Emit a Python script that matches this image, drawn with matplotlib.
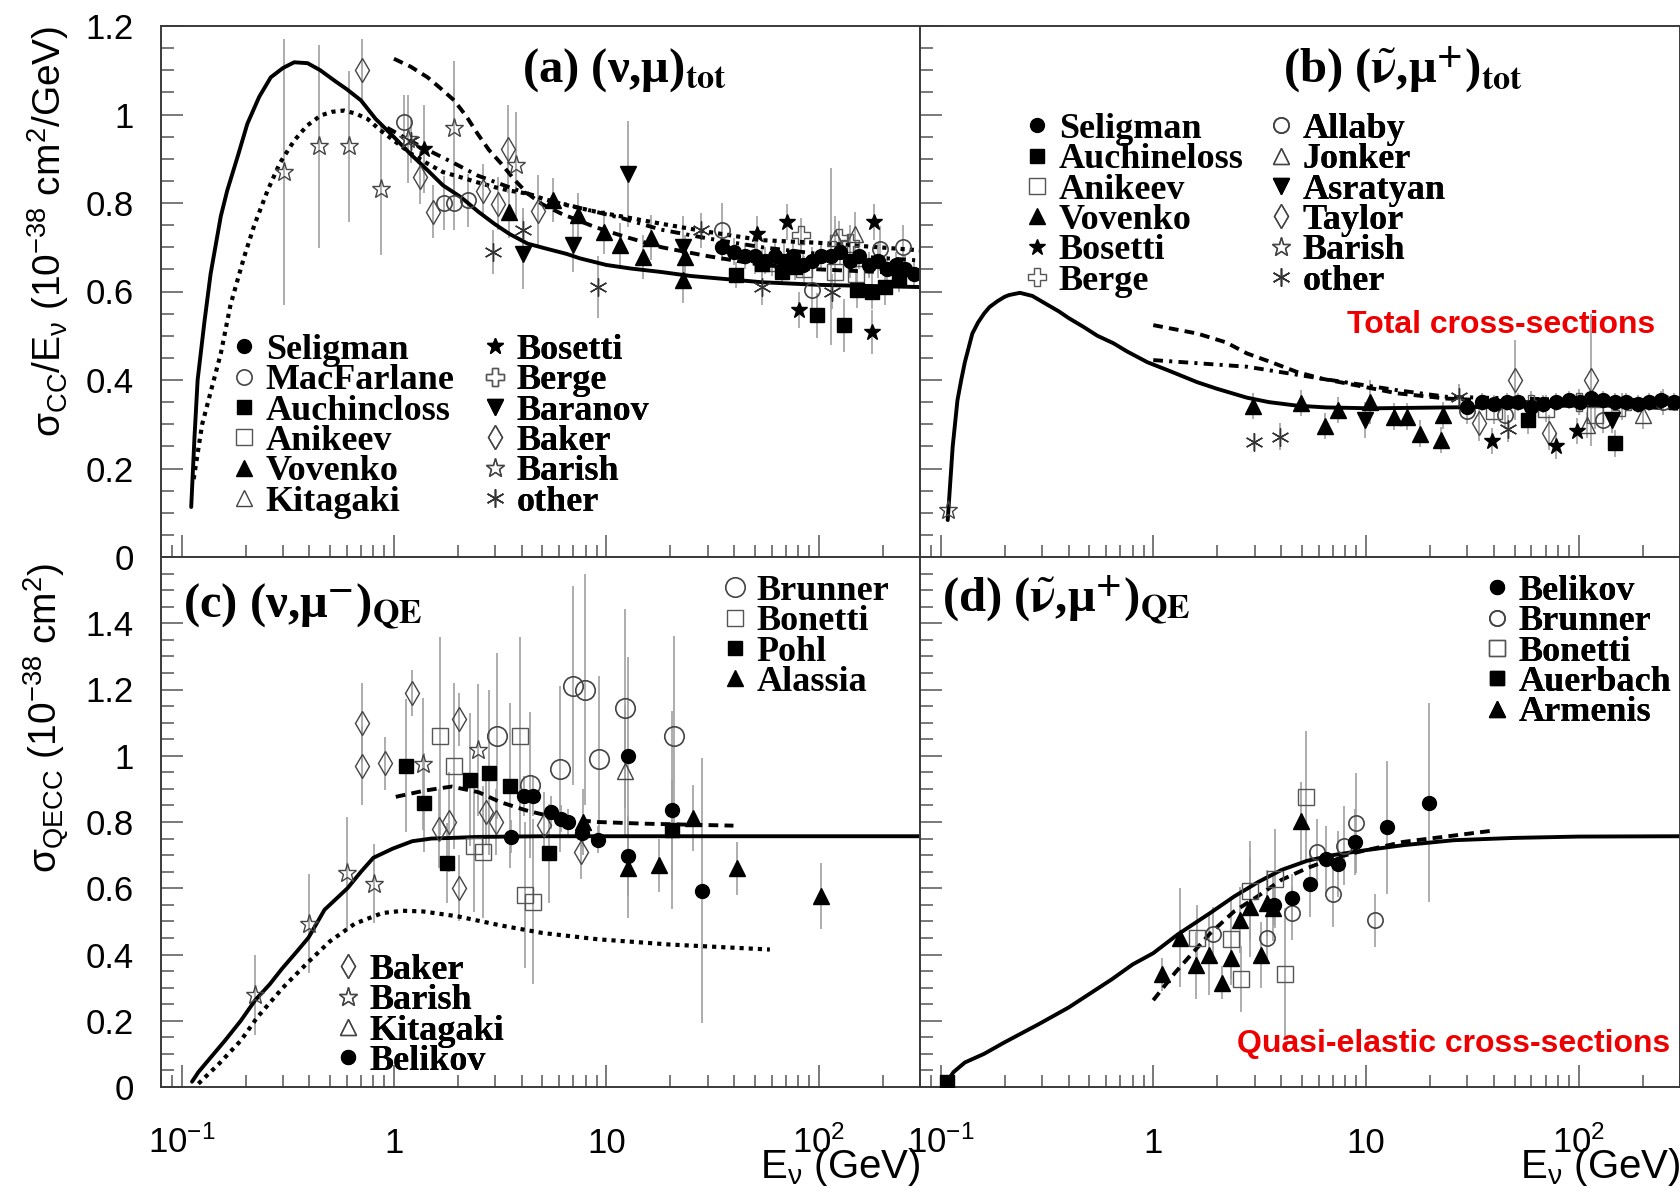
import numpy as np
import matplotlib
matplotlib.use('Agg')
import matplotlib.pyplot as plt
from matplotlib.lines import Line2D
from matplotlib.font_manager import FontProperties
from matplotlib.ticker import FixedLocator, MultipleLocator, LogLocator, NullFormatter

plt.rcParams['font.family'] = ['Liberation Sans', 'DejaVu Sans']
plt.rcParams['mathtext.fontset'] = 'custom'
plt.rcParams['mathtext.rm'] = 'Liberation Sans'
plt.rcParams['mathtext.it'] = 'Liberation Sans:italic'
plt.rcParams['mathtext.bf'] = 'Liberation Sans:bold'

# ---------------- axis ticks ----------------
xtick_vals = [0.1, 1, 10, 100]
xtick_labels = [r'$\mathregular{10^{-1}}$', '1', '10', r'$\mathregular{10^{2}}$']
top_ytick_vals = [0, 0.2, 0.4, 0.6, 0.8, 1.0, 1.2]
top_ytick_labels = ['0', '0.2', '0.4', '0.6', '0.8', '1', '1.2']
bot_ytick_vals = [0, 0.2, 0.4, 0.6, 0.8, 1.0, 1.2, 1.4]
bot_ytick_labels = ['0', '0.2', '0.4', '0.6', '0.8', '1', '1.2', '1.4']

# ---------------- panel (a) curves ----------------
a_solid_E = [0.111, 0.115, 0.119, 0.128, 0.137, 0.153, 0.164, 0.185, 0.204, 0.232, 0.263, 0.30, 0.339, 0.392, 0.45,
             0.523, 0.60, 0.699, 0.82, 1.0, 1.2, 1.44, 1.7, 2.07, 2.5, 2.97, 3.5, 4.27, 5.2, 6.5, 7.5, 10, 13, 18.2,
             25, 53.9, 100, 300]
a_solid_y = [0.113, 0.27, 0.40, 0.53, 0.640, 0.77, 0.828, 0.91, 0.979, 1.04, 1.084, 1.105, 1.118, 1.116, 1.10,
             1.077, 1.057, 1.032, 0.99, 0.949, 0.91, 0.874, 0.84, 0.813, 0.78, 0.753, 0.73, 0.708, 0.697, 0.685,
             0.675, 0.66, 0.652, 0.644, 0.635, 0.621, 0.615, 0.610]
a_dotted_E = [0.114, 0.125, 0.153, 0.17, 0.197, 0.22, 0.254, 0.29, 0.339, 0.39, 0.453, 0.51, 0.583, 0.66, 0.751,
              0.86, 1.0, 1.2, 1.44, 1.7, 2.07, 2.5, 2.97, 3.5, 4.27, 5.0, 6.13, 9.0, 18.2, 30, 53.9, 100, 300]
a_dotted_y = [0.176, 0.30, 0.46, 0.57, 0.678, 0.75, 0.828, 0.89, 0.941, 0.975, 0.998, 1.006, 1.009, 1.002, 0.990,
              0.965, 0.941, 0.912, 0.889, 0.87, 0.858, 0.846, 0.836, 0.828, 0.821, 0.81, 0.798, 0.78, 0.753, 0.735,
              0.716, 0.71, 0.693]
a_dashed_E = [1.0, 1.2, 1.44, 1.65, 1.92, 2.2, 2.48, 2.8, 3.2, 3.7, 4.27, 5.0, 6.13, 8.8, 12, 18.2, 30, 53.9, 100, 300]
a_dashed_y = [1.126, 1.108, 1.084, 1.06, 1.032, 0.995, 0.956, 0.92, 0.889, 0.852, 0.821, 0.797, 0.776, 0.746, 0.725,
              0.70, 0.68, 0.66, 0.65, 0.64]
a_dashdot_E = [0.93, 1.2, 1.44, 1.92, 2.48, 3.66, 5.0, 7.35, 12, 18, 30, 54, 100, 300]
a_dashdot_y = [0.97, 0.94, 0.92, 0.89, 0.862, 0.832, 0.81, 0.79, 0.765, 0.74, 0.72, 0.70, 0.685, 0.67]

# ---------------- panel (a) data ----------------
a_seligman_E = [35, 40, 45, 50, 56, 62, 69, 76, 84, 93, 103, 114, 126, 140, 155, 172, 190, 210, 232, 256, 282]
a_seligman_y = [0.70, 0.69, 0.68, 0.68, 0.67, 0.68, 0.67, 0.68, 0.66, 0.67, 0.68, 0.68, 0.69, 0.67, 0.68, 0.66, 0.67, 0.65, 0.66, 0.65, 0.64]
a_seligman_err = [0.03, 0.03, 0.03, 0.04, 0.03, 0.03, 0.04, 0.03, 0.03, 0.03, 0.03, 0.20, 0.03, 0.04, 0.03, 0.03, 0.04, 0.03, 0.03, 0.03, 0.03]
a_macfarlane_E = [1.12, 1.73, 1.91, 2.23, 35, 93, 194, 250]
a_macfarlane_y = [0.983, 0.80, 0.80, 0.806, 0.740, 0.603, 0.697, 0.70]
a_macfarlane_err = [0.06, 0.06, 0.06, 0.06, 0.06, 0.05, 0.05, 0.05]
a_auchincloss_E = [41, 54, 67, 77, 98, 132, 152, 178, 206, 240]
a_auchincloss_y = [0.637, 0.663, 0.645, 0.655, 0.546, 0.524, 0.603, 0.600, 0.610, 0.630]
a_auchincloss_err = [0.03, 0.03, 0.03, 0.03, 0.05, 0.06, 0.04, 0.04, 0.04, 0.03]
a_anikeev_E = [60, 85, 120, 150]
a_anikeev_y = [0.665, 0.650, 0.645, 0.640]
a_anikeev_err = [0.03, 0.03, 0.03, 0.03]
a_vovenko_E = [3.5, 5.6, 7.36, 9.8, 11.6, 14.9, 16.2, 23.0, 23.4]
a_vovenko_y = [0.78, 0.806, 0.772, 0.734, 0.704, 0.678, 0.722, 0.625, 0.678]
a_vovenko_err = [0.06, 0.05, 0.05, 0.05, 0.05, 0.05, 0.05, 0.05, 0.05]
a_kitagaki_E = [120, 148]
a_kitagaki_y = [0.72, 0.73]
a_kitagaki_err = [0.05, 0.05]
a_bosetti_E = [1.39, 51, 71, 81, 178, 183]
a_bosetti_y = [0.922, 0.730, 0.757, 0.558, 0.509, 0.757]
a_bosetti_err = [0.10, 0.04, 0.04, 0.04, 0.05, 0.04]
a_berge_E = [83, 124, 140]
a_berge_y = [0.727, 0.72, 0.71]
a_berge_err = [0.04, 0.04, 0.04]
a_baranov_E = [4.05, 7.0, 12.7, 23.0]
a_baranov_y = [0.685, 0.705, 0.866, 0.70]
a_baranov_err = [0.08, 0.06, 0.12, 0.07]
a_baker_E = [0.706, 1.32, 1.52, 2.62, 3.09, 3.44, 4.76]
a_baker_y = [1.101, 0.858, 0.780, 0.828, 0.798, 0.922, 0.783]
a_baker_err = [0.07, 0.06, 0.06, 0.06, 0.06, 0.10, 0.08]
a_barish_E = [0.304, 0.444, 0.616, 0.869, 1.16, 1.91, 3.76]
a_barish_y = [0.870, 0.928, 0.928, 0.832, 0.945, 0.970, 0.885]
a_barish_err = [0.30, 0.23, 0.17, 0.15, 0.10, 0.15, 0.12]
a_other_E = [1.2, 2.92, 4.05, 9.1, 28, 54, 115]
a_other_y = [0.94, 0.689, 0.738, 0.610, 0.738, 0.61, 0.60]
a_other_err = [0.05, 0.05, 0.05, 0.07, 0.04, 0.04, 0.04]

# ---------------- panel (b) curves ----------------
b_solid_E = [0.108, 0.114, 0.120, 0.125, 0.130, 0.141, 0.150, 0.160, 0.170, 0.185, 0.20, 0.21, 0.236, 0.27, 0.318,
             0.36, 0.40, 0.47, 0.546, 0.65, 0.75, 0.94, 1.2, 1.61, 2.0, 2.76, 3.5, 4.75, 6.5, 10.7, 24, 71, 300]
b_solid_y = [0.0835, 0.25, 0.354, 0.40, 0.44, 0.505, 0.53, 0.55, 0.565, 0.578, 0.588, 0.592, 0.597, 0.59, 0.57,
             0.555, 0.54, 0.52, 0.50, 0.483, 0.465, 0.44, 0.42, 0.395, 0.38, 0.36, 0.35, 0.342, 0.338, 0.336,
             0.338, 0.341, 0.347]
b_dashed_E = [1.0, 1.61, 2.2, 2.76, 3.6, 4.75, 6.2, 8.15, 14, 24, 100, 300]
b_dashed_y = [0.524, 0.505, 0.485, 0.460, 0.44, 0.418, 0.403, 0.392, 0.370, 0.358, 0.345, 0.335]
b_dashdot_E = [1.0, 2.76, 6.2, 14, 24, 100, 300]
b_dashdot_y = [0.445, 0.43, 0.403, 0.377, 0.362, 0.355, 0.355]

# ---------------- panel (b) data ----------------
b_seligman_E = [30, 35, 40, 46, 52, 60, 68, 78, 90, 102, 115, 130, 148, 168, 190, 215, 245, 280]
b_seligman_y = [0.34, 0.35, 0.345, 0.35, 0.35, 0.34, 0.345, 0.35, 0.355, 0.35, 0.36, 0.355, 0.35, 0.35, 0.345, 0.35, 0.355, 0.35]
b_seligman_err = [0.02, 0.02, 0.02, 0.02, 0.02, 0.02, 0.02, 0.02, 0.02, 0.02, 0.02, 0.02, 0.02, 0.02, 0.02, 0.02, 0.02, 0.02]
b_auchineloss_E = [57.8, 149]
b_auchineloss_y = [0.309, 0.257]
b_auchineloss_err = [0.03, 0.03]
b_anikeev_E = [40, 70, 120]
b_anikeev_y = [0.33, 0.335, 0.32]
b_anikeev_err = [0.03, 0.03, 0.03]
b_vovenko_E = [2.95, 4.96, 6.4, 7.4, 10.4, 13.6, 15.6, 17.9, 22.5, 23]
b_vovenko_y = [0.341, 0.348, 0.296, 0.332, 0.351, 0.317, 0.317, 0.279, 0.264, 0.32]
b_vovenko_err = [0.03, 0.03, 0.03, 0.03, 0.05, 0.03, 0.03, 0.03, 0.03, 0.03]
b_bosetti_E = [39, 78, 98]
b_bosetti_y = [0.262, 0.251, 0.285]
b_bosetti_err = [0.03, 0.03, 0.03]
b_berge_E = [60, 100, 160]
b_berge_y = [0.345, 0.35, 0.34]
b_berge_err = [0.03, 0.03, 0.03]
b_allaby_E = [30, 45, 130, 250]
b_allaby_y = [0.33, 0.32, 0.31, 0.35]
b_allaby_err = [0.03, 0.03, 0.03, 0.03]
b_jonker_E = [110, 200]
b_jonker_y = [0.298, 0.32]
b_jonker_err = [0.03, 0.03]
b_asratyan_E = [9.9, 143]
b_asratyan_y = [0.31, 0.31]
b_asratyan_err = [0.04, 0.03]
b_taylor_E = [34.2, 50.5, 73, 114]
b_taylor_y = [0.302, 0.40, 0.281, 0.40]
b_taylor_err = [0.04, 0.09, 0.04, 0.15]
b_barish_E = [0.108]
b_barish_y = [0.106]
b_barish_err = [0.02]
b_other_E = [2.97, 3.93, 27.5, 46.5]
b_other_y = [0.26, 0.272, 0.362, 0.29]
b_other_err = [0.02, 0.03, 0.03, 0.03]

# ---------------- panel (c) curves ----------------
c_solid_E = [0.112, 0.12, 0.135, 0.16, 0.19, 0.222, 0.26, 0.297, 0.35, 0.396, 0.471, 0.604, 0.70, 0.80, 0.99, 1.22,
             1.5, 1.87, 2.5, 5, 300]
c_solid_y = [0.016, 0.045, 0.084, 0.14, 0.20, 0.262, 0.31, 0.357, 0.41, 0.451, 0.535, 0.60, 0.65, 0.692, 0.72,
             0.742, 0.75, 0.752, 0.755, 0.757, 0.757]
c_dotted_E = [0.12, 0.15, 0.19, 0.227, 0.3, 0.396, 0.5, 0.654, 0.88, 1.1, 1.37, 2.0, 3.17, 5.0, 9.1, 20, 58.9]
c_dotted_y = [0.01, 0.07, 0.14, 0.21, 0.30, 0.378, 0.44, 0.493, 0.525, 0.532, 0.53, 0.515, 0.488, 0.465, 0.446,
              0.43, 0.415]
c_dashed_E = [1.02, 1.4, 1.87, 2.5, 3.17, 4.2, 5.37, 7.0, 9.1, 15, 39.7]
c_dashed_y = [0.876, 0.895, 0.907, 0.89, 0.86, 0.835, 0.818, 0.807, 0.80, 0.795, 0.789]

# ---------------- panel (c) data ----------------
c_brunner_E = [3.06, 4.35, 6.03, 6.99, 7.96, 9.19, 12.3, 20.9]
c_brunner_y = [1.059, 0.912, 0.96, 1.211, 1.20, 0.991, 1.143, 1.061]
c_brunner_err = [0.25, 0.22, 0.25, 0.30, 0.35, 0.25, 0.30, 0.30]
c_bonetti_E = [1.64, 1.92, 2.38, 2.64, 3.92, 4.13, 4.54]
c_bonetti_y = [1.06, 0.97, 0.729, 0.71, 1.06, 0.58, 0.56]
c_bonetti_err = [0.30, 0.25, 0.20, 0.20, 0.30, 0.22, 0.25]
c_pohl_E = [1.14, 1.39, 1.78, 2.28, 2.8, 3.53, 5.37, 20.4]
c_pohl_y = [0.97, 0.858, 0.676, 0.928, 0.949, 0.91, 0.705, 0.776]
c_pohl_err = [0.20, 0.15, 0.12, 0.20, 0.25, 0.25, 0.15, 0.15]
c_alassia_E = [7.8, 12.6, 17.7, 25.7, 41.2, 102]
c_alassia_y = [0.80, 0.661, 0.67, 0.813, 0.66, 0.577]
c_alassia_err = [0.10, 0.15, 0.08, 0.10, 0.08, 0.10]
c_baker_E = [0.71, 0.71, 0.91, 1.22, 2.03, 1.63, 1.82, 2.03, 3.01, 2.7, 5.1, 7.57]
c_baker_y = [1.10, 0.97, 0.977, 1.19, 1.11, 0.78, 0.80, 0.60, 0.80, 0.83, 0.79, 0.708]
c_baker_err = [0.12, 0.12, 0.08, 0.07, 0.08, 0.12, 0.15, 0.10, 0.10, 0.10, 0.10, 0.08]
c_barish_E = [0.222, 0.396, 0.604, 0.807, 1.37, 2.5]
c_barish_y = [0.278, 0.493, 0.645, 0.614, 0.975, 1.017]
c_barish_err = [0.12, 0.15, 0.17, 0.12, 0.20, 0.20]
c_kitagaki_E = [12.3]
c_kitagaki_y = [0.954]
c_kitagaki_err = [0.20]
c_belikov_E = [3.56, 4.08, 4.54, 5.5, 6.13, 6.6, 7.69, 9.1, 12.6, 12.6, 20.4, 28.2]
c_belikov_y = [0.755, 0.879, 0.879, 0.829, 0.81, 0.80, 0.766, 0.747, 0.998, 0.697, 0.836, 0.593]
c_belikov_err = [0.05, 0.06, 0.06, 0.05, 0.04, 0.04, 0.04, 0.04, 0.30, 0.12, 0.30, 0.40]

# ---------------- panel (d) curves ----------------
d_solid_E = [0.107, 0.115, 0.130, 0.16, 0.2, 0.288, 0.4, 0.638, 0.8, 1.0, 1.3, 1.84, 2.4, 3.12, 4.0, 5.3, 7.0, 10,
             15, 25.9, 50, 100, 300]
d_solid_y = [0.016, 0.045, 0.074, 0.10, 0.135, 0.189, 0.24, 0.325, 0.37, 0.404, 0.46, 0.524, 0.575, 0.619, 0.655,
             0.683, 0.70, 0.715, 0.73, 0.745, 0.752, 0.756, 0.757]
d_dashed_E = [1.0, 1.27, 1.84, 2.4, 3.12, 4.0, 5.3, 7.0, 9.0, 15, 39.6]
d_dashed_y = [0.262, 0.346, 0.462, 0.53, 0.577, 0.625, 0.661, 0.69, 0.708, 0.74, 0.774]

# ---------------- panel (d) data ----------------
d_belikov_E = [3.7, 4.47, 5.44, 6.48, 7.36, 8.9, 12.5, 19.7]
d_belikov_y = [0.55, 0.572, 0.614, 0.687, 0.674, 0.739, 0.784, 0.858]
d_belikov_err = [0.06, 0.07, 0.10, 0.10, 0.10, 0.10, 0.20, 0.30]
d_brunner_E = [1.92, 3.43, 4.47, 5.89, 6.98, 7.88, 9.0, 11.0]
d_brunner_y = [0.462, 0.451, 0.524, 0.708, 0.582, 0.729, 0.797, 0.504]
d_brunner_err = [0.08, 0.08, 0.08, 0.10, 0.10, 0.12, 0.15, 0.08]
d_bonetti_E = [1.6, 2.33, 2.59, 2.85, 3.72, 4.18, 5.21]
d_bonetti_y = [0.45, 0.446, 0.325, 0.593, 0.629, 0.341, 0.876]
d_bonetti_err = [0.10, 0.12, 0.10, 0.15, 0.15, 0.20, 0.20]
d_auerbach_E = [0.107]
d_auerbach_y = [0.016]
d_auerbach_err = [0.0]
d_armenis_E = [1.10, 1.34, 1.59, 1.82, 2.10, 2.33, 2.57, 2.85, 3.2, 3.43, 3.66, 4.97]
d_armenis_y = [0.34, 0.451, 0.367, 0.399, 0.315, 0.388, 0.504, 0.543, 0.399, 0.556, 0.54, 0.802]
d_armenis_err = [0.05, 0.15, 0.10, 0.12, 0.05, 0.08, 0.10, 0.15, 0.10, 0.10, 0.10, 0.12]

# ---------------- styles ----------------
OPEN = '#444444'
ST = {
    'fcirc': dict(marker='o', mfc='k', mec='k', ms=10),
    'ocirc': dict(marker='o', mfc='none', mec=OPEN, ms=11, mew=1.2),
    'bigocirc': dict(marker='o', mfc='none', mec=OPEN, ms=14, mew=1.2),
    'fsq': dict(marker='s', mfc='k', mec='k', ms=10),
    'osq': dict(marker='s', mfc='none', mec='#555555', ms=12, mew=1.0),
    'ftri': dict(marker='^', mfc='k', mec='k', ms=11),
    'otri': dict(marker='^', mfc='none', mec=OPEN, ms=12, mew=1.0),
    'fstar': dict(marker='*', mfc='k', mec='k', ms=12),
    'cross': dict(marker='P', mfc='none', mec='#555555', ms=13, mew=1.0),
    'fdown': dict(marker='v', mfc='k', mec='k', ms=11),
    'odiam': dict(marker='d', mfc='none', mec=OPEN, ms=12, mew=1.0),
    'ostar': dict(marker='*', mfc='none', mec=OPEN, ms=14, mew=1.0),
    'aster': dict(marker=(6, 2, 0), mfc='none', mec='#333333', ms=13, mew=1.0),
}

W, H = 1681, 1194
fig = plt.figure(figsize=(W / 100, H / 100), dpi=100)


def rect(x0, y0, x1, y1):
    return [x0 / W, 1 - y1 / H, (x1 - x0) / W, (y1 - y0) / H]


ax_a = fig.add_axes(rect(161, 26, 920, 557))
ax_b = fig.add_axes(rect(920, 26, 1680, 557))
ax_c = fig.add_axes(rect(161, 557, 920, 1087))
ax_d = fig.add_axes(rect(920, 557, 1680, 1087))

LS = {
    'solid': '-',
    'dotted': (0, (1.0, 1.2)),
    'dashed': (0, (2.5, 1.6)),
    'dashdot': (0, (2.5, 1.6, 0.8, 1.6)),
}


def curve(ax, E, y, kind):
    ax.plot(E, y, color='k', lw=2.8 if kind != 'dotted' else 3.0, ls=LS[kind], zorder=2,
            solid_capstyle='round', solid_joinstyle='round')


def data(ax, E, y, err, style):
    ax.errorbar(E, y, yerr=err, fmt='none', ecolor='#a0a0a0', elinewidth=1.2, zorder=1)
    ax.plot(E, y, ls='none', zorder=3, **ST[style])


# panel a
curve(ax_a, a_solid_E, a_solid_y, 'solid')
curve(ax_a, a_dotted_E, a_dotted_y, 'dotted')
curve(ax_a, a_dashed_E, a_dashed_y, 'dashed')
curve(ax_a, a_dashdot_E, a_dashdot_y, 'dashdot')
data(ax_a, a_barish_E, a_barish_y, a_barish_err, 'ostar')
data(ax_a, a_baker_E, a_baker_y, a_baker_err, 'odiam')
data(ax_a, a_macfarlane_E, a_macfarlane_y, a_macfarlane_err, 'ocirc')
data(ax_a, a_anikeev_E, a_anikeev_y, a_anikeev_err, 'osq')
data(ax_a, a_kitagaki_E, a_kitagaki_y, a_kitagaki_err, 'otri')
data(ax_a, a_berge_E, a_berge_y, a_berge_err, 'cross')
data(ax_a, a_other_E, a_other_y, a_other_err, 'aster')
data(ax_a, a_seligman_E, a_seligman_y, a_seligman_err, 'fcirc')
data(ax_a, a_auchincloss_E, a_auchincloss_y, a_auchincloss_err, 'fsq')
data(ax_a, a_vovenko_E, a_vovenko_y, a_vovenko_err, 'ftri')
data(ax_a, a_bosetti_E, a_bosetti_y, a_bosetti_err, 'fstar')
data(ax_a, a_baranov_E, a_baranov_y, a_baranov_err, 'fdown')

# panel b
curve(ax_b, b_solid_E, b_solid_y, 'solid')
curve(ax_b, b_dashed_E, b_dashed_y, 'dashed')
curve(ax_b, b_dashdot_E, b_dashdot_y, 'dashdot')
data(ax_b, b_taylor_E, b_taylor_y, b_taylor_err, 'odiam')
data(ax_b, b_barish_E, b_barish_y, b_barish_err, 'ostar')
data(ax_b, b_allaby_E, b_allaby_y, b_allaby_err, 'ocirc')
data(ax_b, b_anikeev_E, b_anikeev_y, b_anikeev_err, 'osq')
data(ax_b, b_jonker_E, b_jonker_y, b_jonker_err, 'otri')
data(ax_b, b_berge_E, b_berge_y, b_berge_err, 'cross')
data(ax_b, b_other_E, b_other_y, b_other_err, 'aster')
data(ax_b, b_seligman_E, b_seligman_y, b_seligman_err, 'fcirc')
data(ax_b, b_auchineloss_E, b_auchineloss_y, b_auchineloss_err, 'fsq')
data(ax_b, b_vovenko_E, b_vovenko_y, b_vovenko_err, 'ftri')
data(ax_b, b_bosetti_E, b_bosetti_y, b_bosetti_err, 'fstar')
data(ax_b, b_asratyan_E, b_asratyan_y, b_asratyan_err, 'fdown')

# panel c
curve(ax_c, c_solid_E, c_solid_y, 'solid')
curve(ax_c, c_dotted_E, c_dotted_y, 'dotted')
curve(ax_c, c_dashed_E, c_dashed_y, 'dashed')
data(ax_c, c_baker_E, c_baker_y, c_baker_err, 'odiam')
data(ax_c, c_barish_E, c_barish_y, c_barish_err, 'ostar')
data(ax_c, c_brunner_E, c_brunner_y, c_brunner_err, 'bigocirc')
data(ax_c, c_bonetti_E, c_bonetti_y, c_bonetti_err, 'osq')
data(ax_c, c_kitagaki_E, c_kitagaki_y, c_kitagaki_err, 'otri')
data(ax_c, c_pohl_E, c_pohl_y, c_pohl_err, 'fsq')
data(ax_c, c_belikov_E, c_belikov_y, c_belikov_err, 'fcirc')
data(ax_c, c_alassia_E, c_alassia_y, c_alassia_err, 'ftri')

# panel d
curve(ax_d, d_solid_E, d_solid_y, 'solid')
curve(ax_d, d_dashed_E, d_dashed_y, 'dashed')
data(ax_d, d_brunner_E, d_brunner_y, d_brunner_err, 'ocirc')
data(ax_d, d_bonetti_E, d_bonetti_y, d_bonetti_err, 'osq')
data(ax_d, d_belikov_E, d_belikov_y, d_belikov_err, 'fcirc')
data(ax_d, d_auerbach_E, d_auerbach_y, d_auerbach_err, 'fsq')
data(ax_d, d_armenis_E, d_armenis_y, d_armenis_err, 'ftri')

# ---------------- axes formatting ----------------
TICKC = '#555555'
for ax in (ax_a, ax_b, ax_c, ax_d):
    ax.set_xscale('log')
    ax.set_xlim(0.08, 300)
    ax.xaxis.set_major_locator(FixedLocator(xtick_vals))
    ax.xaxis.set_minor_locator(LogLocator(base=10, subs=np.arange(2, 10) * 1.0, numticks=30))
    ax.xaxis.set_minor_formatter(NullFormatter())
    ax.yaxis.set_minor_locator(MultipleLocator(0.05))
    ax.tick_params(which='both', direction='in', top=False, right=False, color=TICKC, width=1.1)
    ax.tick_params(which='major', length=16)
    ax.tick_params(which='minor', length=9)
    for s in ax.spines.values():
        s.set_color('#3a3a3a')
        s.set_linewidth(1.4)

for ax in (ax_a, ax_b):
    ax.set_ylim(0, 1.2)
    ax.set_yticks(top_ytick_vals, top_ytick_labels)
    ax.tick_params(axis='x', labelbottom=False)
for ax in (ax_c, ax_d):
    ax.set_ylim(0, 1.6)
    ax.set_yticks(bot_ytick_vals, bot_ytick_labels)
    ax.set_xticks(xtick_vals, xtick_labels)
    ax.tick_params(axis='x', pad=47.5, labelsize=25)
    for t in ax.get_xticklabels():
        t.set_va('baseline')
for ax in (ax_a, ax_c):
    ax.tick_params(axis='y', pad=19.5, labelsize=25)
for ax in (ax_b, ax_d):
    ax.tick_params(axis='y', labelleft=False)

# axis titles
ax_a.set_ylabel(r'$\mathrm{\sigma_{CC}}$/E$_{\mathrm{\nu}}$ (10$^{\mathrm{-38}}$ cm$^{\mathrm{2}}$/GeV)',
                fontsize=28, loc='top')
ax_a.yaxis.set_label_coords(-0.118, 1.0)
ax_c.set_ylabel(r'$\mathrm{\sigma_{QECC}}$ (10$^{\mathrm{-38}}$ cm$^{\mathrm{2}}$)', fontsize=28, loc='top')
ax_c.yaxis.set_label_coords(-0.118, 0.99)
for ax in (ax_c, ax_d):
    ax.set_xlabel(r'E$_{\mathrm{\nu}}$ (GeV)', fontsize=29, loc='right', va='baseline')
    ax.xaxis.set_label_coords(1.0, -0.172)

# panel titles
tfont = FontProperties(family=['Liberation Serif', 'DejaVu Serif'], weight='bold', size=35)
ax_a.text(0.4756, 0.8945, '(a) (ν,μ)$_{\\mathbf{tot}}$', transform=ax_a.transAxes,
          fontproperties=tfont, math_fontfamily='stix', va='baseline')
ax_b.text(0.4776, 0.893, '(b) ($\\tilde{\\mathbf{\\nu}}$,μ$^{\\mathbf{+}}$)$_{\\mathbf{tot}}$', transform=ax_b.transAxes,
          fontproperties=tfont, math_fontfamily='stix', va='baseline')
ax_c.text(0.029, 0.887, '(c) (ν,μ$^{\\mathbf{-}}$)$_{\\mathbf{QE}}$', transform=ax_c.transAxes,
          fontproperties=tfont, math_fontfamily='stix', va='baseline')
ax_d.text(0.029, 0.896, '(d) ($\\tilde{\\mathbf{\\nu}}$,μ$^{\\mathbf{+}}$)$_{\\mathbf{QE}}$', transform=ax_d.transAxes,
          fontproperties=tfont, math_fontfamily='stix', va='baseline')

# red annotations
ax_b.text(0.968, 0.422, 'Total cross-sections', transform=ax_b.transAxes, color='#ee0000',
          fontsize=23, fontweight='bold', ha='right', va='baseline')
ax_d.text(0.987, 0.066, 'Quasi-elastic cross-sections', transform=ax_d.transAxes, color='#ee0000',
          fontsize=23, fontweight='bold', ha='right', va='baseline')

# ---------------- legends ----------------
LFS = 26
lfont = FontProperties(family='Liberation Serif', weight='bold', size=LFS)


def col_legend(ax, names, styles, mx, my):
    fs_px = LFS * 100 / 72
    handles = [Line2D([], [], ls='none', **ST[s]) for s in styles]
    x0 = mx - 0.3 * fs_px
    y0 = my - 0.4 * fs_px
    leg = ax.legend(handles, names, loc='upper left', bbox_to_anchor=(x0 / W, 1 - y0 / H),
                    bbox_transform=fig.transFigure, frameon=False, borderpad=0, borderaxespad=0,
                    handlelength=0.6, handletextpad=0.3, labelspacing=-0.08, prop=lfont)
    ax.add_artist(leg)


a_leg1_names = ['Seligman', 'MacFarlane', 'Auchincloss', 'Anikeev', 'Vovenko', 'Kitagaki']
a_leg2_names = ['Bosetti', 'Berge', 'Baranov', 'Baker', 'Barish', 'other']
b_leg1_names = ['Seligman', 'Auchineloss', 'Anikeev', 'Vovenko', 'Bosetti', 'Berge']
b_leg2_names = ['Allaby', 'Jonker', 'Asratyan', 'Taylor', 'Barish', 'other']
c_leg1_names = ['Brunner', 'Bonetti', 'Pohl', 'Alassia']
c_leg2_names = ['Baker', 'Barish', 'Kitagaki', 'Belikov']
d_leg_names = ['Belikov', 'Brunner', 'Bonetti', 'Auerbach', 'Armenis']

col_legend(ax_a, a_leg1_names, ['fcirc', 'ocirc', 'fsq', 'osq', 'ftri', 'otri'], 244, 348)
col_legend(ax_a, a_leg2_names, ['fstar', 'cross', 'fdown', 'odiam', 'ostar', 'aster'], 495, 348)
col_legend(ax_b, b_leg1_names, ['fcirc', 'fsq', 'osq', 'ftri', 'fstar', 'cross'], 1037, 127)
col_legend(ax_b, b_leg2_names, ['ocirc', 'otri', 'fdown', 'odiam', 'ostar', 'aster'], 1281, 127)
col_legend(ax_c, c_leg1_names, ['bigocirc', 'osq', 'fsq', 'ftri'], 735, 589)
col_legend(ax_c, c_leg2_names, ['odiam', 'ostar', 'otri', 'fcirc'], 348, 968)
col_legend(ax_d, d_leg_names, ['fcirc', 'ocirc', 'osq', 'fsq', 'ftri'], 1497, 589)

fig.savefig('out.png', dpi=100)
